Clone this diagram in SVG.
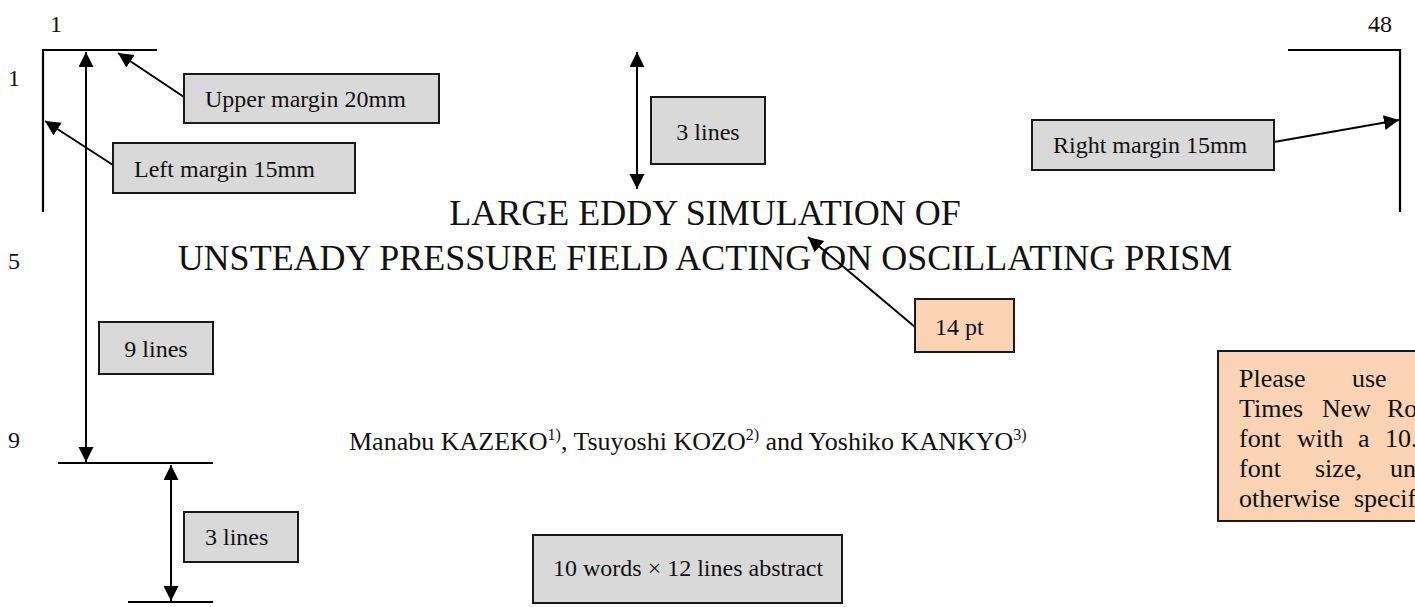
<svg xmlns="http://www.w3.org/2000/svg" width="1415" height="607" viewBox="0 0 1415 607">
<style>
text{font-family:"Liberation Serif","Times New Roman",serif;fill:#111}
.num{font-size:24px}
.lbl{font-size:24px}
.title{font-size:36px}
.auth{font-size:26px}
.note{font-size:26px}
.box{fill:#d9d9d9;stroke:#1a1a1a;stroke-width:2}
.pbox{fill:#f9d3b3;stroke:#1a1a1a;stroke-width:2}
.rule{stroke:#000;stroke-width:2.2;fill:none}
.arr{stroke:#000;stroke-width:2;fill:none}
</style>
<defs>
<marker id="ah" markerUnits="userSpaceOnUse" markerWidth="16" markerHeight="16" refX="15" refY="7.5" orient="auto-start-reverse">
<path d="M0,0 L15,7.5 L0,15 Z" fill="#000"/>
</marker>
</defs>
<rect width="1415" height="607" fill="#fff"/>

<g id="line-numbers">
<text class="num" x="50" y="32">1</text>
<text class="num" x="1368" y="32">48</text>
<text class="num" x="8" y="86">1</text>
<text class="num" x="8" y="269">5</text>
<text class="num" x="8" y="448">9</text>
</g>

<g id="margin-rules">
<polyline class="rule" points="43,212 43,50 157,50"/>
<polyline class="rule" points="1288,50 1400,50 1400,212"/>
<line class="rule" x1="58" y1="463" x2="213" y2="463"/>
<line class="rule" x1="128" y1="602" x2="213" y2="602"/>
</g>

<g id="connectors">
<line class="arr" x1="86" y1="52" x2="86" y2="462" marker-start="url(#ah)" marker-end="url(#ah)"/>
<line class="arr" x1="184" y1="97" x2="118" y2="53" marker-end="url(#ah)"/>
<line class="arr" x1="113" y1="165" x2="45" y2="121" marker-end="url(#ah)"/>
<line class="arr" x1="637" y1="52" x2="637" y2="189" marker-start="url(#ah)" marker-end="url(#ah)"/>
<line class="arr" x1="1274" y1="142" x2="1399" y2="120" marker-end="url(#ah)"/>
<line class="arr" x1="171" y1="465" x2="171" y2="601" marker-start="url(#ah)" marker-end="url(#ah)"/>
</g>

<g id="title">
<text class="title" x="705" y="225" text-anchor="middle">LARGE EDDY SIMULATION OF</text>
<text class="title" x="705" y="270" text-anchor="middle">UNSTEADY PRESSURE FIELD ACTING ON OSCILLATING PRISM</text>
</g>

<g id="authors">
<text class="auth" x="349" y="450">Manabu KAZEKO<tspan font-size="16" dy="-10">1)</tspan><tspan dy="10">, Tsuyoshi KOZO</tspan><tspan font-size="16" dy="-10">2)</tspan><tspan dy="10"> and Yoshiko KANKYO</tspan><tspan font-size="16" dy="-10">3)</tspan></text>
</g>

<g id="upper-margin">
<rect class="box" x="184" y="74" width="255" height="49"/>
<text class="lbl" x="205" y="107">Upper margin 20mm</text>
</g>

<g id="left-margin">
<rect class="box" x="113" y="143" width="242" height="50"/>
<text class="lbl" x="134" y="177">Left margin 15mm</text>
</g>

<g id="top-3-lines">
<rect class="box" x="651" y="97" width="114" height="67"/>
<text class="lbl" x="708" y="140" text-anchor="middle">3 lines</text>
</g>

<g id="right-margin">
<rect class="box" x="1032" y="120" width="242" height="50"/>
<text class="lbl" x="1053" y="153">Right margin 15mm</text>
</g>

<g id="font-14pt">
<line class="arr" x1="915" y1="327" x2="808" y2="237" marker-end="url(#ah)"/>
<rect class="pbox" x="915" y="299" width="99" height="53"/>
<text class="lbl" x="935" y="335">14 pt</text>
</g>

<g id="nine-lines">
<rect class="box" x="99" y="322" width="114" height="52"/>
<text class="lbl" x="156" y="357" text-anchor="middle">9 lines</text>
</g>

<g id="bottom-3-lines">
<rect class="box" x="184" y="512" width="114" height="50"/>
<text class="lbl" x="205" y="545">3 lines</text>
</g>

<g id="abstract">
<rect class="box" x="533" y="535" width="309" height="68"/>
<text class="lbl" x="553" y="576">10 words × 12 lines abstract</text>
</g>

<g id="font-note">
<rect class="pbox" x="1218" y="351" width="220" height="170"/>
<text class="note" y="387"><tspan x="1239">Please</tspan><tspan x="1352">use</tspan></text>
<text class="note" y="417"><tspan x="1239">Times</tspan><tspan x="1322">New</tspan><tspan x="1387">Ro</tspan></text>
<text class="note" y="447"><tspan x="1239">font</tspan><tspan x="1297">with</tspan><tspan x="1358">a</tspan><tspan x="1385">10.</tspan></text>
<text class="note" y="477"><tspan x="1239">font</tspan><tspan x="1315">size,</tspan><tspan x="1390">un</tspan></text>
<text class="note" y="507"><tspan x="1239">otherwise</tspan><tspan x="1354">specif</tspan></text>
</g>
</svg>
